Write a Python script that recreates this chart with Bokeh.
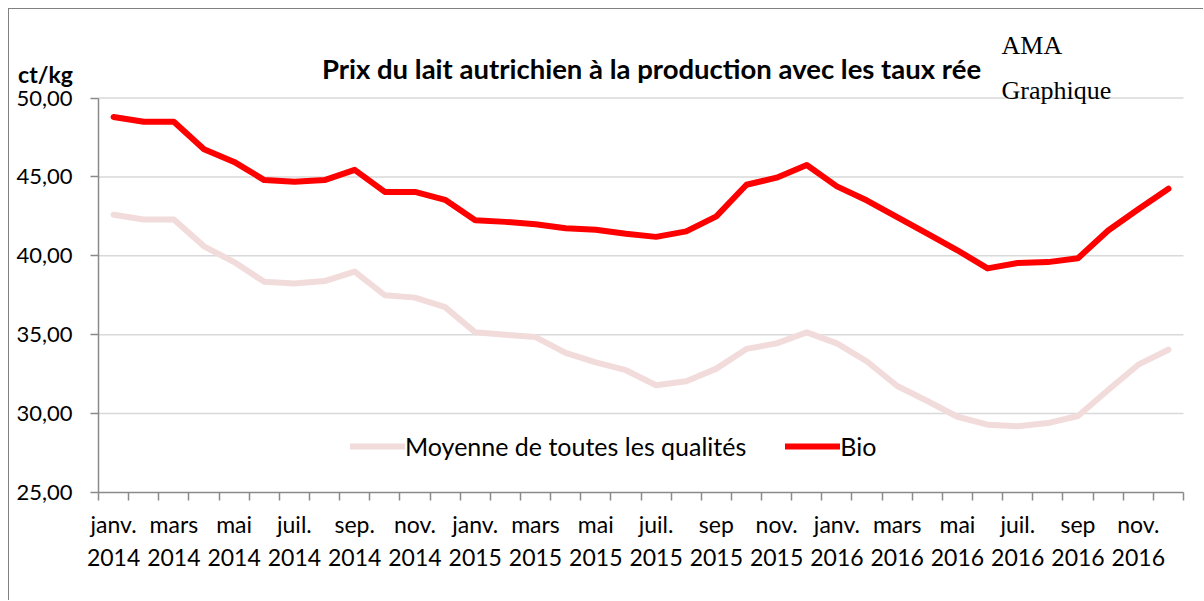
from bokeh.plotting import figure
from bokeh.models import (FixedTicker, Range1d, Label, Legend, LegendItem, ColumnDataSource,
                          LinearAxis)
from bokeh.embed import file_html
from bokeh.resources import INLINE

# ---- data ----
months = ["janv.\n2014", "févr.\n2014", "mars\n2014", "avr.\n2014", "mai\n2014", "juin\n2014",
          "juil.\n2014", "août\n2014", "sep.\n2014", "oct.\n2014", "nov.\n2014", "déc.\n2014",
          "janv.\n2015", "févr.\n2015", "mars\n2015", "avr.\n2015", "mai\n2015", "juin\n2015",
          "juil.\n2015", "août\n2015", "sep\n2015", "oct.\n2015", "nov.\n2015", "déc.\n2015",
          "janv.\n2016", "févr.\n2016", "mars\n2016", "avr.\n2016", "mai\n2016", "juin\n2016",
          "juil.\n2016", "août\n2016", "sep\n2016", "oct.\n2016", "nov.\n2016", "déc.\n2016"]
bio = [48.8, 48.5, 48.5, 46.75, 45.95, 44.8, 44.7, 44.8, 45.45, 44.05, 44.05, 43.55,
       42.25, 42.15, 42.0, 41.75, 41.65, 41.4, 41.2, 41.55, 42.5, 44.5, 44.95, 45.75,
       44.4, 43.5, 42.45, 41.4, 40.35, 39.2, 39.55, 39.6, 39.85, 41.6, 42.95, 44.25]
moyenne = [42.6, 42.3, 42.3, 40.6, 39.6, 38.35, 38.25, 38.4, 39.0, 37.5, 37.35, 36.75,
           35.15, 35.0, 34.85, 33.85, 33.25, 32.75, 31.8, 32.05, 32.85, 34.1, 34.45, 35.15,
           34.45, 33.3, 31.75, 30.8, 29.8, 29.3, 29.2, 29.4, 29.85, 31.5, 33.1, 34.05]
y_ticks = [25, 30, 35, 40, 45, 50]
y_tick_labels = ["25,00", "30,00", "35,00", "40,00", "45,00", "50,00"]
series_names = ["Moyenne de toutes les qualités", "Bio"]
title_text = "Prix du lait autrichien à la production avec les taux rée"

# ---- layout (canvas pixels; canvas starts at page (9, 9)) ----
FIG_W, FIG_H = 1195, 592
PLOT_L, PLOT_R = 89, 1174      # canvas x of the category area
PLOT_T, PLOT_B = 88.5, 483     # canvas y (from top) of 50 and 25
FONT = "Lato"
AXIS_COLOR = "#8a8a8a"

n = len(months)
x0, x1 = -0.5, n - 0.5
y0, y1 = y_ticks[0], y_ticks[-1]
xpp = (x1 - x0) / (PLOT_R - PLOT_L)
ypp = (y1 - y0) / (PLOT_B - PLOT_T)
x_range = Range1d(x0 - PLOT_L * xpp, x1 + (FIG_W - PLOT_R) * xpp)
y_range = Range1d(y0 - (FIG_H - PLOT_B) * ypp, y1 + PLOT_T * ypp)

idx = list(range(n))
src = ColumnDataSource(dict(x=idx, bio=bio, moyenne=moyenne))

p = figure(width=FIG_W, height=FIG_H, output_backend="svg", toolbar_location=None,
           x_range=x_range, y_range=y_range, x_axis_type=None, y_axis_type=None,
           min_border=0)
p.title.visible = False
p.styles = {"margin-left": "8px", "margin-top": "8px",
            "border-left": "1px solid #808080", "border-top": "1px solid #808080"}
p.outline_line_color = None
p.background_fill_color = "white"
p.border_fill_color = "white"
p.xgrid.visible = False
p.ygrid.visible = False

# horizontal gridlines at the y ticks (except the axis baseline)
grid_y = y_ticks[1:]
p.segment(x0=[x0] * len(grid_y), x1=[x1] * len(grid_y), y0=grid_y, y1=grid_y,
          line_color="#d9d9d9", line_width=1.5)

r_moy = p.line("x", "moyenne", source=src, line_color="#F2DCDB", line_width=6,
               line_join="round", line_cap="round")
r_bio = p.line("x", "bio", source=src, line_color="#FF0000", line_width=6,
               line_join="round", line_cap="round")

# x axis
label_ticks = [i for i in idx if i % 2 == 0]
xaxis = LinearAxis(fixed_location=y0, bounds=(x0, x1),
                   ticker=FixedTicker(ticks=label_ticks,
                                      minor_ticks=[i - 0.5 for i in range(n + 1)]))
xaxis.major_label_overrides = {i: months[i] for i in label_ticks}
xaxis.major_tick_out = 0
xaxis.major_tick_in = 0
xaxis.minor_tick_out = 8
xaxis.minor_tick_in = 0
xaxis.minor_tick_line_color = AXIS_COLOR
xaxis.minor_tick_line_width = 1.5
xaxis.axis_line_color = AXIS_COLOR
xaxis.axis_line_width = 1.5
xaxis.major_label_text_font = FONT
xaxis.major_label_text_font_size = "23px"
xaxis.major_label_text_color = "black"
xaxis.major_label_text_line_height = 1.18
xaxis.major_label_standoff = 9
p.add_layout(xaxis, "below")

# y axis
yaxis = LinearAxis(fixed_location=x0, bounds=(y0, y1),
                   ticker=FixedTicker(ticks=y_ticks, minor_ticks=[]))
yaxis.major_label_overrides = {t: l for t, l in zip(y_ticks, y_tick_labels)}
yaxis.major_tick_out = 8
yaxis.major_tick_in = 0
yaxis.major_tick_line_color = AXIS_COLOR
yaxis.major_tick_line_width = 1.5
yaxis.axis_line_color = AXIS_COLOR
yaxis.axis_line_width = 1.5
yaxis.major_label_text_font = FONT
yaxis.major_label_text_font_size = "22px"
yaxis.major_label_text_color = "black"
yaxis.major_label_standoff = 18
p.add_layout(yaxis, "left")

# texts (screen units from canvas bottom-left)
p.add_layout(Label(x=642, y=FIG_H - 59, x_units="screen", y_units="screen", text=title_text,
                   text_font=FONT, text_font_style="bold", text_font_size="27.5px",
                   text_align="center", text_baseline="alphabetic", text_color="black"))
p.add_layout(Label(x=36, y=FIG_H - 64, x_units="screen", y_units="screen", text="ct/kg",
                   text_font=FONT, text_font_style="bold", text_font_size="23px",
                   text_align="center", text_baseline="alphabetic", text_color="black"))
p.add_layout(Label(x=992, y=FIG_H - 36, x_units="screen", y_units="screen", text="AMA",
                   text_font="Liberation Serif", text_font_size="26px",
                   text_align="left", text_baseline="alphabetic", text_color="black"))
p.add_layout(Label(x=992, y=FIG_H - 81, x_units="screen", y_units="screen", text="Graphique",
                   text_font="Liberation Serif", text_font_size="26px",
                   text_align="left", text_baseline="alphabetic", text_color="black"))

legend = Legend(items=[LegendItem(label=series_names[0], renderers=[r_moy]),
                       LegendItem(label=series_names[1], renderers=[r_bio])],
                location=(341, FIG_H - 452), orientation="horizontal",
                glyph_width=55, glyph_height=24, label_standoff=0, spacing=39,
                padding=0, margin=0, border_line_color=None, background_fill_alpha=0,
                label_text_font=FONT, label_text_font_size="25px", label_text_color="black")
p.add_layout(legend)

open("out.html", "w").write(file_html(p, INLINE))
